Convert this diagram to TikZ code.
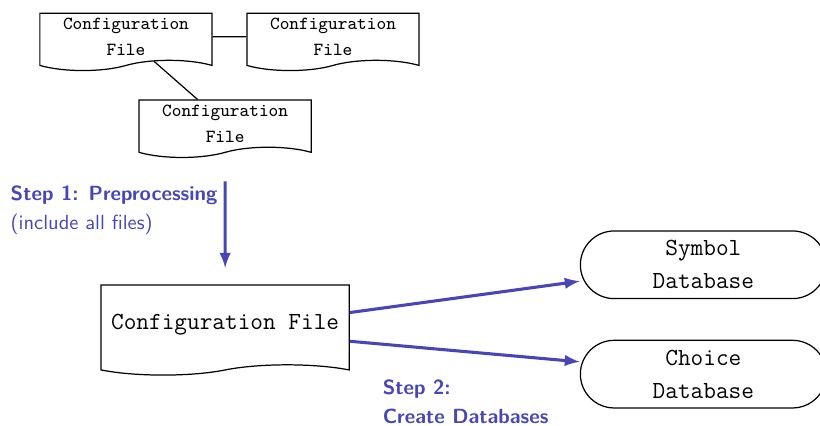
\documentclass[tikz,border=0pt]{standalone}
\usepackage{amsmath}
\usepackage{tikz}
\usetikzlibrary{shapes.symbols,shapes.misc}
\definecolor{stepblue}{RGB}{70,70,185}

\begin{document}
\begin{tikzpicture}[
    file/.style={draw, semithick, tape, tape bend top=none, align=center, font=\small\ttfamily, minimum width=84pt, minimum height=28pt, inner sep=2pt},
    bigfile/.style={file, font=\large\ttfamily, minimum width=121pt, minimum height=44pt},
    database/.style={draw, semithick, rounded rectangle, align=center, font=\large\ttfamily, minimum width=124pt, minimum height=33pt, inner sep=2pt},
    flow/.style={-latex, stepblue, line width=1.5pt},
    steptext/.style={stepblue, align=left, font=\sffamily}
]
    \useasboundingbox (0,0) rectangle (14.06,7.29);
    % the included files
    \node[file] (cfgA) at (2.16,6.66) {Configuration\\[1.5pt]File};
    \node[file] (cfgB) at (5.71,6.66) {Configuration\\[1.5pt]File};
    \node[file] (cfgC) at (3.86,5.17) {Configuration\\[1.5pt]File};
    \draw[semithick] (cfgA) -- (cfgB);
    \draw[semithick] (cfgA) -- (cfgC);
    % step 1
    \node[steptext, anchor=north west] (step1) at (0.06,4.22) {\textbf{Step 1: Preprocessing}\\[2pt](include all files)};
    \coordinate (pre) at (3.86,4.18);
    \node[bigfile] (cfg) at (3.86,1.72) {Configuration File};
    \draw[flow, shorten >=8pt] (pre) -- (cfg);
    % step 2
    \node[database] (symdb) at (12.06,2.75) {Symbol\\[2pt]Database};
    \node[database] (chdb) at (12.06,0.875) {Choice\\[2pt]Database};
    \draw[flow] ([yshift=6pt]cfg.east) -- ([yshift=-8pt]symdb.west);
    \draw[flow] ([yshift=-8pt]cfg.east) -- ([yshift=6pt]chdb.west);
    \node[steptext, font=\sffamily\bfseries, anchor=north west] (step2) at (6.44,0.90) {Step 2:\\[2pt]Create Databases};
\end{tikzpicture}
\end{document}
